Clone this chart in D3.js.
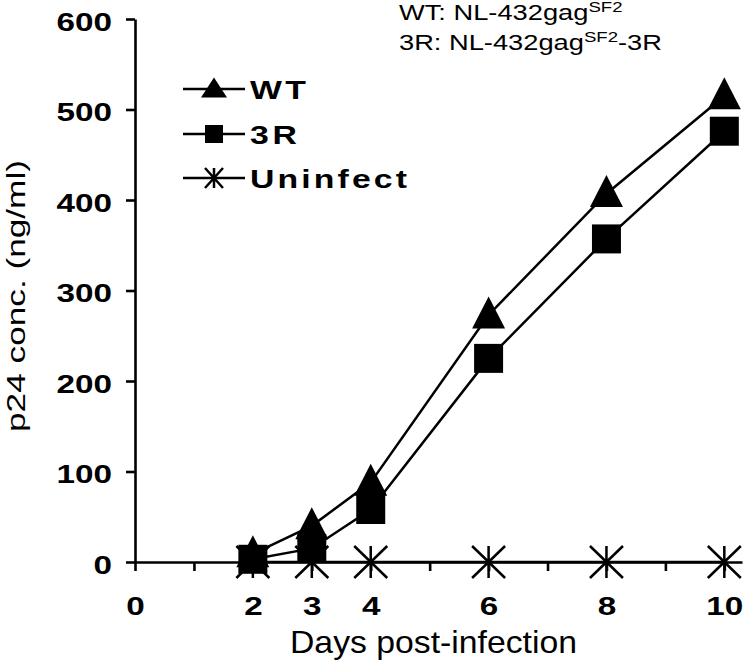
<!DOCTYPE html>
<html>
<head>
<meta charset="utf-8">
<script src="https://cdn.jsdelivr.net/npm/d3@7"></script>
<style>
  html, body { margin: 0; padding: 0; background: #fff; }
  svg { display: block; font-family: Arial, "Liberation Sans", sans-serif; }
</style>
</head>
<body>
<svg id="chart" width="750" height="662"></svg>
<script>
// ---- data ----
const days = [2, 3, 4, 6, 8, 10];
const wtValues = [9, 40, 88, 273, 407, 515];
const r3Values = [3, 15, 58, 225, 357, 476];
const uninfectValues = [0, 0, 0, 0, 0, 0];
const seriesNames = ["WT", "3R", "Uninfect"];
const yTicks = [0, 100, 200, 300, 400, 500, 600];
const xTicks = [0, 1, 2, 3, 4, 5, 6, 7, 8, 9, 10];
const xTickLabels = [0, 2, 3, 4, 6, 8, 10];
const yTitle = "p24 conc. (ng/ml)";
const xTitle = "Days post-infection";

const svg = d3.select("#chart");
const x = d3.scaleLinear().domain([0, 10.3]).range([135, 742]);
const y = d3.scaleLinear().domain([0, 600]).range([562, 19]);

// ---- axes ----
const gx = svg.append("g").attr("transform", `translate(0,${y(0)})`)
  .call(d3.axisBottom(x).tickValues(xTicks).tickSize(9).tickSizeOuter(0)
    .tickFormat(d => xTickLabels.includes(d) ? d : ""));
const gy = svg.append("g").attr("transform", `translate(${x(0)},0)`)
  .call(d3.axisLeft(y).tickValues(yTicks).tickSize(9).tickSizeOuter(0));

[gx, gy].forEach(g => {
  g.select(".domain").attr("stroke", "#000").attr("stroke-width", 2.6);
  g.selectAll(".tick line").attr("stroke", "#000").attr("stroke-width", 2.6);
  g.selectAll(".tick text").attr("fill", "#000")
    .attr("font-size", 25).attr("font-weight", "bold")
    .attr("font-family", "Arial, 'Liberation Sans', sans-serif");
});
gx.selectAll(".tick text").attr("y", 0).attr("dy", 0)
  .attr("transform", "translate(0,53) scale(1.33,1)");
gy.selectAll(".tick text").attr("x", 0).attr("dy", 0)
  .attr("transform", "translate(-23,11) scale(1.33,1)");

// ---- titles ----
svg.append("text")
  .attr("x", 290).attr("y", 653)
  .attr("font-size", 32)
  .attr("textLength", 287).attr("lengthAdjust", "spacingAndGlyphs")
  .text(xTitle);

svg.append("text")
  .attr("transform", "translate(25,296) rotate(-90)")
  .attr("text-anchor", "middle")
  .attr("font-size", 25)
  .attr("textLength", 272).attr("lengthAdjust", "spacingAndGlyphs")
  .text(yTitle);

// ---- markers ----
function triPath(w, h) {
  return `M0,${-h * 0.58}L${w / 2},${h * 0.42}L${-w / 2},${h * 0.42}Z`;
}
function sqPath(s) {
  return `M${-s / 2},${-s / 2}h${s}v${s}h${-s}Z`;
}
function starPath(w, h) {
  return `M0,${-h / 2}V${h / 2}M${-w / 2},${-h / 2}L${w / 2},${h / 2}M${w / 2},${-h / 2}L${-w / 2},${h / 2}`;
}

const series = [
  { name: seriesNames[2], values: uninfectValues, marker: "star" },
  { name: seriesNames[0], values: wtValues, marker: "tri" },
  { name: seriesNames[1], values: r3Values, marker: "sq" }
];

const line = d3.line().x((d, i) => x(days[i])).y(d => y(d));

series.forEach(s => {
  svg.append("path").attr("d", line(s.values))
    .attr("fill", "none").attr("stroke", "#000").attr("stroke-width", 2.5);
});

function drawMarker(g, type, big) {
  if (type === "tri") {
    g.append("path").attr("d", big ? triPath(33, 32) : triPath(26, 20)).attr("fill", "#000");
  } else if (type === "sq") {
    g.append("path").attr("d", big ? sqPath(29) : sqPath(18)).attr("fill", "#000");
  } else {
    g.append("path").attr("d", big ? starPath(33, 32) : starPath(18, 20))
      .attr("fill", "none").attr("stroke", "#000").attr("stroke-width", 2.5);
  }
}

series.forEach(s => {
  s.values.forEach((v, i) => {
    const g = svg.append("g").attr("transform", `translate(${x(days[i])},${y(v)})`);
    drawMarker(g, s.marker, true);
  });
});

// ---- legend ----
const legendItems = [
  { name: seriesNames[0], marker: "tri", ly: 89, len: 56 },
  { name: seriesNames[1], marker: "sq", ly: 134, len: 47 },
  { name: seriesNames[2], marker: "star", ly: 178, len: 157 }
];
legendItems.forEach(it => {
  const g = svg.append("g").attr("transform", `translate(0,${it.ly})`);
  g.append("line").attr("x1", 183).attr("x2", 245).attr("y1", 0).attr("y2", 0)
    .attr("stroke", "#000").attr("stroke-width", 2.5);
  const m = g.append("g").attr("transform", "translate(214,0)");
  drawMarker(m, it.marker, false);
  g.append("text")
    .attr("transform", "translate(250,10) scale(1.3,1)")
    .attr("font-size", 26).attr("font-weight", "bold")
    .attr("textLength", it.len / 1.3).attr("lengthAdjust", "spacing")
    .text(it.name);
});

// ---- annotation ----
const notes = [
  { pre: "WT: NL-432gag", sup: "SF2", post: "", ny: 20 },
  { pre: "3R: NL-432gag", sup: "SF2", post: "-3R", ny: 50 }
];
notes.forEach(n => {
  const t = svg.append("text")
    .attr("transform", `translate(399,${n.ny}) scale(1.24,1)`)
    .attr("font-size", 22);
  t.append("tspan").text(n.pre);
  t.append("tspan").attr("font-size", 15).attr("dy", -8).text(n.sup);
  if (n.post) t.append("tspan").attr("dy", 8).text(n.post);
});
</script>
</body>
</html>
